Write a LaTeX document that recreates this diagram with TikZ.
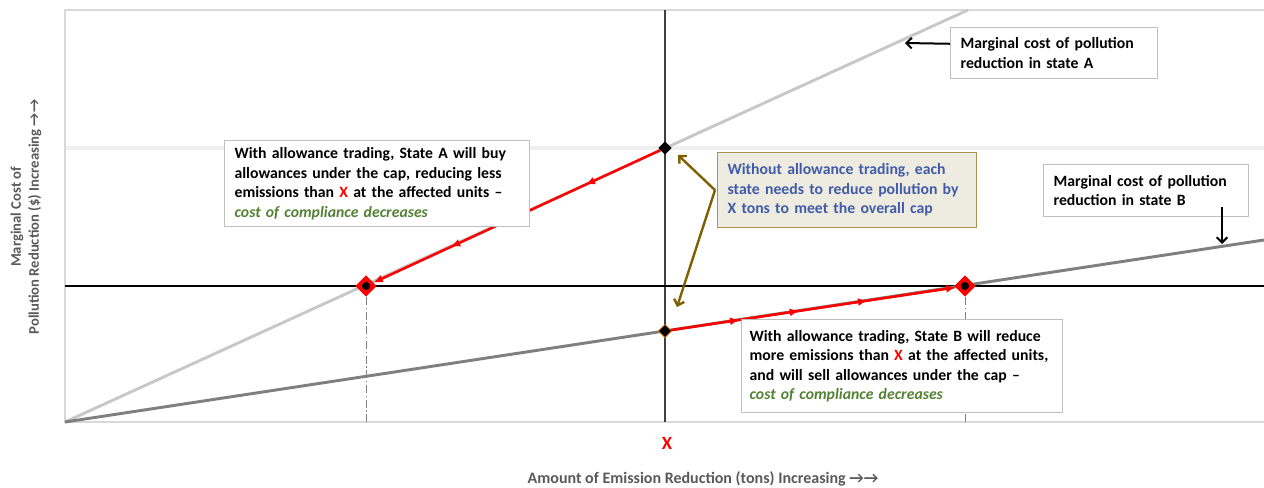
\documentclass[tikz,border=0pt]{standalone}
\usepackage{fontspec}
\setmainfont{Carlito}
\usetikzlibrary{arrows.meta,positioning,shapes.geometric,decorations.markings}
\definecolor{frameGray}{RGB}{217,217,217}
\definecolor{gridGray}{RGB}{240,240,240}
\definecolor{curveA}{RGB}{200,200,200}
\definecolor{curveB}{RGB}{127,127,127}
\definecolor{axisText}{RGB}{89,89,89}
\definecolor{oliveArrow}{RGB}{127,96,0}
\definecolor{noteFill}{RGB}{238,236,225}
\definecolor{noteEdge}{RGB}{170,146,80}
\definecolor{noteBlue}{RGB}{64,92,168}
\definecolor{costGreen}{RGB}{84,130,53}
\definecolor{boxEdge}{RGB}{191,191,191}

\begin{document}
\begin{tikzpicture}[
        x=0.75pt, y=-0.75pt,
        % Estilos
        textbox/.style={rectangle, draw=boxEdge, line width=0.9pt, fill=white, anchor=north west, align=left, inner xsep=7.5pt, inner ysep=0pt, font=\fontsize{11.8}{14.6}\selectfont\bfseries},
        notebox/.style={textbox, draw=noteEdge, fill=noteFill, text=noteBlue},
        capdiamond/.style={diamond, fill=red, inner sep=0pt, minimum size=16pt},
        costdiamond/.style={diamond, fill=black, inner sep=0pt, minimum size=10pt},
        capdot/.style={circle, fill=black, inner sep=0pt, minimum size=6pt},
        redpath/.style={red, line width=1.9pt, -{Latex[length=7pt,width=6pt]}, postaction={decorate}},
        blackarrow/.style={black, line width=1.5pt, -{Straight Barb[length=4pt,width=8pt]}},
        olivearrow/.style={oliveArrow, line width=1.8pt, -{Straight Barb[length=4pt,width=8pt]}}
    ]
        \useasboundingbox (0,0) rectangle (1264,487);

        % Eixos e grade
        \coordinate (origin) at (65,422);
        \draw[gridGray, line width=3pt] (65,148) -- (1264,148);
        \draw[frameGray, line width=1.2pt] (1264,10) -- (65,10) -- (origin) -- (1264,422);
        \draw[black!75, line width=0.9pt] (665,10) -- (665,422);
        \draw[black, line width=2.2pt] (65,286) -- (1264,286);

        % Curvas de custo marginal
        \draw[curveA, line width=2.2pt] (origin) -- (968,10);
        \draw[curveB, line width=2.2pt] (origin) -- (1264,240);

        % Pontos
        \node (costA) [costdiamond] at (665,148) {};
        \node (costB) [costdiamond, draw=orange, line width=0.5pt] at (665,331) {};
        \node (capA) [capdiamond] at (366,286) {};
        \node (capB) [capdiamond] at (965,286) {};

        % Linhas tracejadas
        \draw[curveB, line width=0.75pt, dash pattern=on 6pt off 2pt on 1pt off 2pt] (capA) -- (366,422);
        \draw[curveB, line width=0.75pt, dash pattern=on 6pt off 2pt on 1pt off 2pt] (capB) -- (965,422);

        % Trocas de permissões
        \draw[redpath, decoration={markings,
            mark=at position 0.26 with {\arrow{Latex[length=7pt,width=6pt]}},
            mark=at position 0.73 with {\arrow{Latex[length=7pt,width=6pt]}}}] (costA) -- (capA);
        \draw[redpath, decoration={markings,
            mark=at position 0.24 with {\arrow{Latex[length=7pt,width=6pt]}},
            mark=at position 0.45 with {\arrow{Latex[length=7pt,width=6pt]}},
            mark=at position 0.69 with {\arrow{Latex[length=7pt,width=6pt]}}}] (costB) -- (capB);

        \node[capdot] at (capA) {};
        \node[capdot] at (capB) {};

        % Caixas de texto
        \node (buyBox) [textbox, minimum width=228.75pt, minimum height=64.5pt, text width=213.75pt] at (224,140)
            {With allowance trading, State A will buy\\
             allowances under the cap, reducing less\\
             emissions than {\color{red}X} at the affected units --\\
             {\color{costGreen}\itshape cost of compliance decreases}};
        \node (noteBox) [notebox, minimum width=194.25pt, minimum height=56.25pt, text width=179.25pt] at (717,152)
            {Without allowance trading, each\\
             state needs to reduce pollution by\\
             X tons to meet the overall cap};
        \node (mcA) [textbox, minimum width=155.25pt, minimum height=38.25pt, text width=140.25pt] at (950,27)
            {Marginal cost of pollution\\ reduction in state A};
        \node (mcB) [textbox, minimum width=153.75pt, minimum height=39pt, text width=138.75pt] at (1043,164)
            {Marginal cost of pollution\\ reduction in state B};
        \node (sellBox) [textbox, inner xsep=6pt, minimum width=240.75pt, minimum height=69.75pt, text width=228.75pt] at (741,319)
            {With allowance trading, State B will reduce\\
             more emissions than {\color{red}X} at the affected units,\\
             and will sell allowances under the cap --\\
             {\color{costGreen}\itshape cost of compliance decreases}};

        % Setas de indicação
        \coordinate (tipA) at (905,43);
        \coordinate (startB) at (1222,207);
        \coordinate (tipB) at (1222,244);
        \coordinate (noteTop) at (678,155);
        \coordinate (noteBot) at (677,307);
        \draw[blackarrow] ([yshift=7pt]mcA.west) -- (tipA);
        \draw[blackarrow] (startB) -- (tipB);
        \draw[olivearrow] ([xshift=-1.5pt]noteBox.west) -- (noteTop);
        \draw[olivearrow] ([xshift=-1.5pt]noteBox.west) -- (noteBot);

        % Rótulos dos eixos
        \node (xMark) [text=red, font=\fontsize{14}{16}\selectfont\bfseries] at (667,443) {X};
        \node (xLabel) [text=axisText, font=\fontsize{12}{14}\selectfont\bfseries] at (703,479)
            {Amount of Emission Reduction (tons) Increasing →→};
        \node (yLabel) [text=axisText, rotate=90, align=center, font=\fontsize{11}{13.5}\selectfont\bfseries] at (26,217)
            {Marginal Cost of\\ Pollution Reduction (\$) Increasing →→};

    \end{tikzpicture}
\end{document}
